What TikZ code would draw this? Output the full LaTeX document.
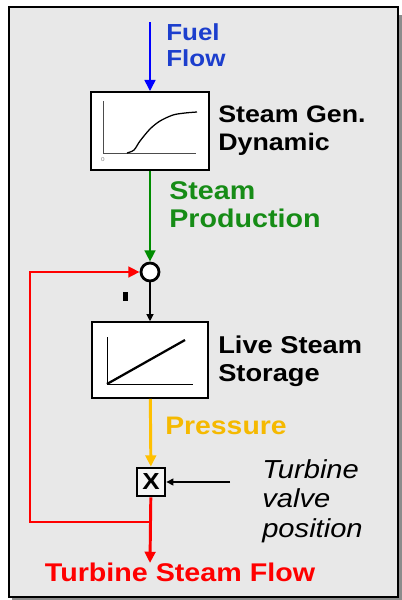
\documentclass[tikz,border=0pt]{standalone}
\usepackage{fontspec}
\setmainfont{Liberation Sans}[FakeStretch=1.12]
\usetikzlibrary{arrows.meta,positioning}

\definecolor{panelgray}{RGB}{232,232,232}
\definecolor{fuelblue}{RGB}{28,62,205}
\definecolor{prodgreen}{RGB}{22,140,22}
\definecolor{linegreen}{RGB}{0,140,0}
\definecolor{presyellow}{RGB}{245,185,0}
\definecolor{lineyellow}{RGB}{255,192,0}

\begin{document}
\begin{tikzpicture}[
        x=0.025cm, y=-0.025cm,
        blockbox/.style={rectangle, draw, line width=1.1pt, fill=white, minimum width=2.95cm, minimum height=1.95cm, inner sep=0pt},
        lbl/.style={anchor=north west, align=left, inner sep=0pt, font=\fontsize{17}{19.4}\selectfont\bfseries},
        flow/.style={-{Triangle[length=8pt,width=7.5pt]}, line width=2.1pt},
        sig/.style={-{Triangle[length=5pt,width=5pt]}, line width=0.8pt},
    ]
        \useasboundingbox (0,0) rectangle (402,600);

        % panel
        \fill[black!45] (12,15) rectangle (402,600);
        \draw[line width=1pt, fill=panelgray] (9,7) rectangle (398,597);

        \node[blockbox] (gen) at (150,131) {};
        \node[circle, draw, line width=2pt, fill=white, minimum size=0.45cm, inner sep=0pt] (sum) at (150,272) {};
        \node[blockbox, minimum width=2.9cm, minimum height=1.9cm] (store) at (150,360) {};
        \node[draw, line width=1.4pt, fill=white!55!panelgray, minimum size=0.72cm, inner sep=0pt, font=\fontsize{16.5}{18}\selectfont\bfseries] (mult) at (151,482) {X};
        \node[fill=black, inner sep=0pt, minimum width=0.12cm, minimum height=0.22cm] (tick) at (125.5,296.5) {};

        % curves in the blocks
        \draw[line width=0.5pt, black!70] (103,101) -- (103,153) -- (196,153);
        \draw[line width=0.9pt] plot[smooth] coordinates {(127,153) (134,150) (140,141) (150,129) (160,121) (173,115) (185,113) (197,112)};
        \node[font=\fontsize{4}{4}\selectfont, text=black!50, inner sep=0pt] (zero) at (103,160) {0};
        \draw[line width=0.6pt] (107,337) -- (107,384) -- (193,384);
        \draw[line width=1.6pt] (107,384) -- (185,340);

        % labels
        \node[lbl, text=fuelblue, font=\fontsize{16.5}{19}\selectfont\bfseries] (fuellbl) at (166,23) {Fuel\\Flow};
        \node[lbl] (genlbl) at (218,106) {Steam Gen.\\Dynamic};
        \node[lbl, text=prodgreen, font=\fontsize{18.2}{20}\selectfont\bfseries] (prodlbl) at (169,181) {Steam\\Production};
        \node[lbl, font=\fontsize{17.3}{19.4}\selectfont\bfseries] (storelbl) at (218,336) {Live Steam\\Storage};
        \node[lbl, text=presyellow, font=\fontsize{18}{20}\selectfont\bfseries] (preslbl) at (165,417) {Pressure};
        \node[lbl, font=\fontsize{18.5}{21}\selectfont\itshape] (valvelbl) at (262,459) {Turbine\\valve\\position};
        \node[anchor=north, inner sep=0pt, text=red, font=\fontsize{18.2}{20}\selectfont\bfseries] (outlbl) at (180,563) {Turbine Steam Flow};

        \coordinate (fuelin) at (150,22);
        \coordinate (valve) at (230,482);
        \coordinate (split) at (150,522);
        \coordinate (outflow) at (150,563);
        \coordinate (loopbot) at (30,522);
        \coordinate (looptop) at (30,272);

        \draw[flow, blue] (fuelin) -- (gen);
        \draw[flow, linegreen] (gen) -- (sum);
        \draw[sig] (sum) -- (store);
        \draw[flow, lineyellow] (store) -- (mult);
        \draw[sig] (valve) -- (mult);
        \draw[flow, red] (mult) -- (outflow);
        \draw[flow, red] (split) -- (loopbot) -- (looptop) -- (sum);

    \end{tikzpicture}
\end{document}
